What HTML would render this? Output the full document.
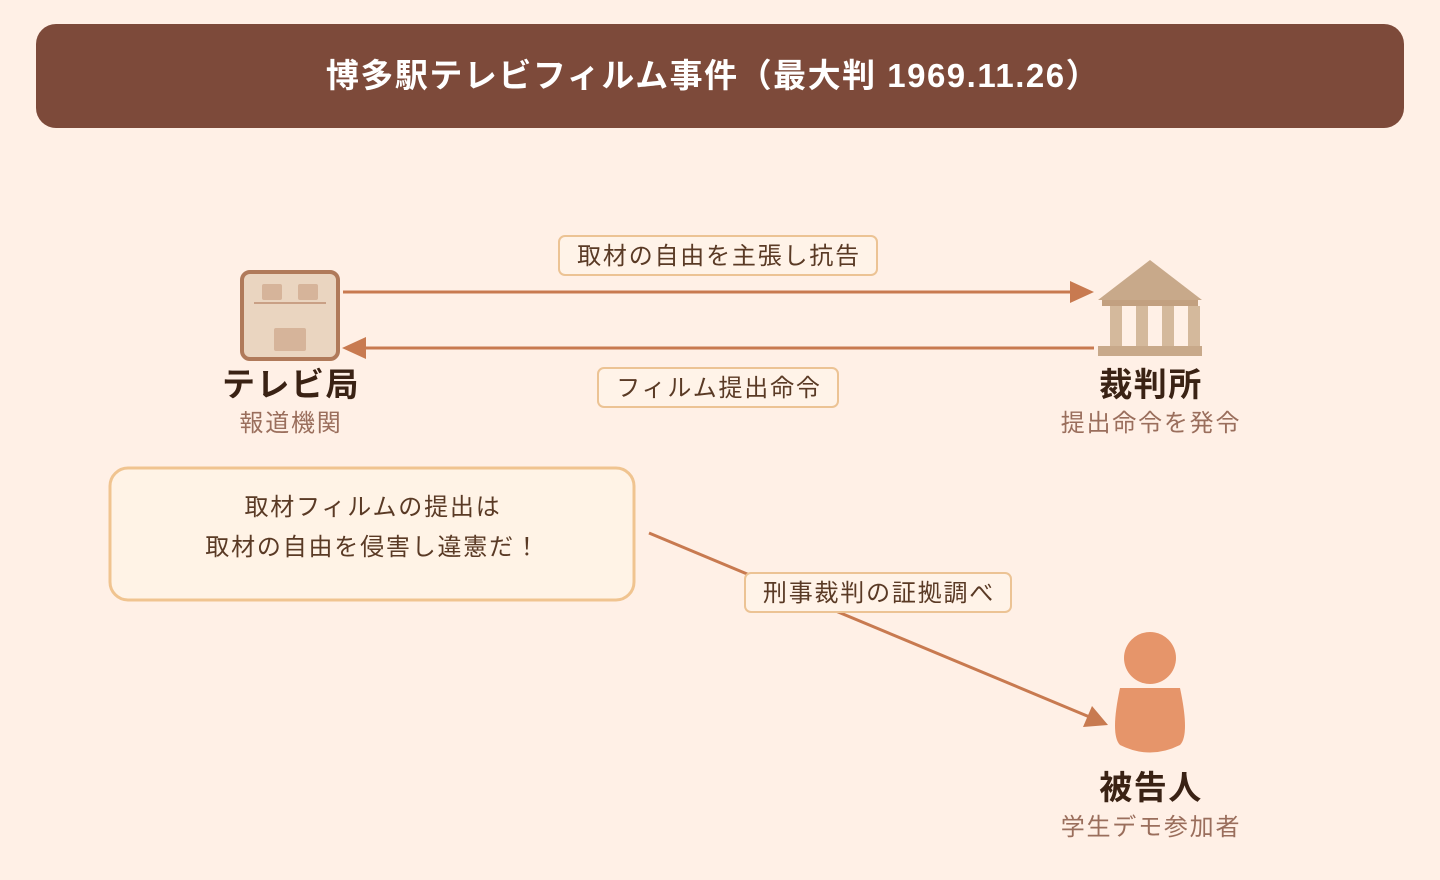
<!DOCTYPE html>
<html><head><meta charset="utf-8"><style>
html,body{margin:0;padding:0;background:#fff0e6;}
svg{display:block;}
text{font-family:"Liberation Sans","Noto Sans CJK JP",sans-serif;}
.l{font-size:24px;letter-spacing:1.8px;}
</style></head><body>
<svg width="1440" height="880" viewBox="0 0 1440 880" xmlns="http://www.w3.org/2000/svg">
<rect width="1440" height="880" fill="#fff0e6"/>
<rect x="36" y="24" width="1368" height="104" rx="20" fill="#7d4a3a"/>
<text x="713" y="87" text-anchor="middle" font-size="33" font-weight="bold" letter-spacing="1.5" fill="#ffffff">博多駅テレビフィルム事件（最大判 1969.11.26）</text>

<!-- TV station -->
<rect x="242" y="272" width="96" height="87" rx="8" fill="#ead5c0" stroke="#b07a5a" stroke-width="4"/>
<rect x="262" y="284" width="20" height="16" rx="2" fill="#d6b49a"/>
<rect x="298" y="284" width="20" height="16" rx="2" fill="#d6b49a"/>
<line x1="254" y1="303" x2="326" y2="303" stroke="#c9a085" stroke-width="2"/>
<rect x="274" y="328" width="32" height="23" rx="2" fill="#d6b49a"/>
<text x="291" y="396" text-anchor="middle" font-size="33" font-weight="bold" letter-spacing="1.5" fill="#3a2214">テレビ局</text>
<text x="291" y="431" text-anchor="middle" class="l" fill="#9a6e5c">報道機関</text>

<!-- Court -->
<polygon points="1150,260 1098,300 1202,300" fill="#c8a98a"/>
<rect x="1102" y="300" width="96" height="6" fill="#c2a080"/>
<rect x="1110" y="306" width="12" height="40" fill="#d4b99c"/>
<rect x="1136" y="306" width="12" height="40" fill="#d4b99c"/>
<rect x="1162" y="306" width="12" height="40" fill="#d4b99c"/>
<rect x="1188" y="306" width="12" height="40" fill="#d4b99c"/>
<rect x="1098" y="346" width="104" height="10" fill="#c8a98a"/>
<text x="1151" y="396" text-anchor="middle" font-size="33" font-weight="bold" letter-spacing="1.5" fill="#3a2214">裁判所</text>
<text x="1151" y="431" text-anchor="middle" class="l" fill="#9a6e5c">提出命令を発令</text>

<!-- Person -->
<circle cx="1150" cy="658" r="26" fill="#e6956a"/>
<path d="M1120,688 L1180,688 Q1190,735 1180,745 Q1150,760 1120,745 Q1110,735 1120,688 Z" fill="#e6956a"/>
<text x="1151" y="799" text-anchor="middle" font-size="33" font-weight="bold" letter-spacing="1.5" fill="#3a2214">被告人</text>
<text x="1151" y="835" text-anchor="middle" class="l" fill="#9a6e5c">学生デモ参加者</text>

<!-- arrows -->
<line x1="343" y1="292" x2="1074" y2="292" stroke="#c87a50" stroke-width="3"/>
<polygon points="1094,292 1070,281 1070,303" fill="#c87a50"/>
<line x1="1094" y1="348" x2="362" y2="348" stroke="#c87a50" stroke-width="3"/>
<polygon points="342,348 366,337 366,359" fill="#c87a50"/>
<line x1="649" y1="533" x2="1092" y2="718" stroke="#c87a50" stroke-width="3"/>
<polygon points="1108,725 1083,727 1092,706" fill="#c87a50"/>

<!-- labels -->
<rect x="559" y="236" width="318" height="39" rx="6" fill="#fff3e8" stroke="#ecc394" stroke-width="2"/>
<text x="719" y="264" text-anchor="middle" class="l" fill="#5a3a25">取材の自由を主張し抗告</text>
<rect x="598" y="368" width="240" height="39" rx="6" fill="#fff3e8" stroke="#ecc394" stroke-width="2"/>
<text x="719" y="396" text-anchor="middle" class="l" fill="#5a3a25">フィルム提出命令</text>
<rect x="745" y="573" width="266" height="39" rx="6" fill="#fff3e8" stroke="#ecc394" stroke-width="2"/>
<text x="879" y="601" text-anchor="middle" class="l" fill="#5a3a25">刑事裁判の証拠調べ</text>

<!-- bubble -->
<rect x="110" y="468" width="524" height="132" rx="18" fill="#fff3e6" stroke="#f0c490" stroke-width="3"/>
<text x="373" y="515" text-anchor="middle" class="l" fill="#5a3a25">取材フィルムの提出は</text>
<text x="373" y="555" text-anchor="middle" class="l" fill="#5a3a25">取材の自由を侵害し違憲だ！</text>
</svg>
</body></html>
